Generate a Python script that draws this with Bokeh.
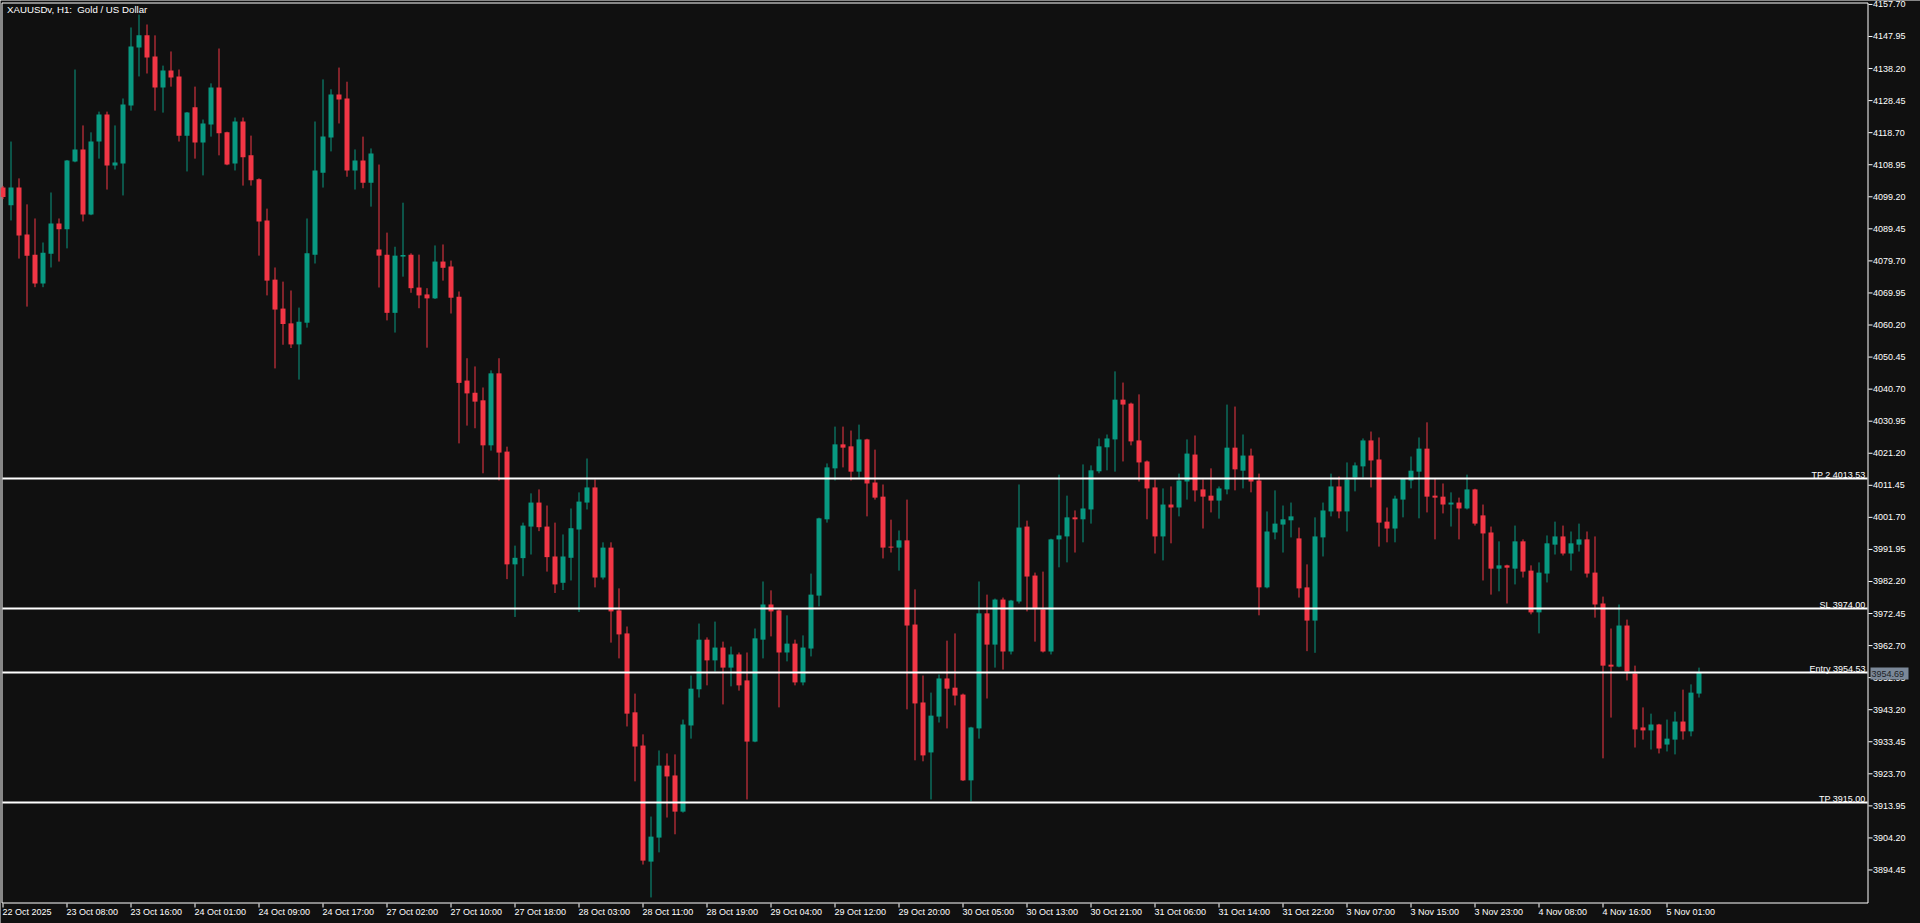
from bokeh.plotting import figure
from bokeh.models import Label, Range1d
from bokeh.core.properties import value
from bokeh.embed import file_html
from bokeh.resources import INLINE

# ---------------- data (XAUUSDv H1) ----------------
opens = [4102.0, 4096.6, 4102.0, 4087.7, 4081.6, 4072.8, 4081.9, 4091.1, 4089.3, 4109.9,
         4113.6, 4093.8, 4116.0, 4124.2, 4108.7, 4109.3, 4127.0, 4144.6, 4148.3, 4141.9,
         4132.4, 4137.6, 4135.8, 4117.8, 4126.4, 4115.7, 4121.2, 4132.4, 4118.8, 4109.3,
         4122.1, 4111.8, 4104.5, 4092.0, 4074.0, 4065.2, 4060.7, 4054.3, 4060.9, 4081.6,
         4106.5, 4117.2, 4130.3, 4129.1, 4107.2, 4110.2, 4103.5, 4083.2, 4081.6, 4063.9,
         4081.0, 4081.6, 4071.6, 4069.5, 4068.3, 4079.5, 4078.0, 4068.8, 4043.3, 4039.6,
         4037.3, 4023.6, 4045.5, 4021.7, 3987.4, 3989.3, 3998.9, 4006.2, 3998.9, 3989.8,
         3981.8, 3989.4, 3998.0, 4006.2, 4010.8, 3983.4, 3992.5, 3973.4, 3966.4, 3942.4,
         3932.3, 3897.0, 3904.3, 3926.2, 3923.2, 3912.2, 3938.4, 3949.4, 3964.5, 3958.2,
         3962.1, 3956.0, 3960.0, 3952.1, 3933.5, 3964.5, 3975.2, 3973.4, 3960.6, 3963.3,
         3951.5, 3961.8, 3977.9, 4001.1, 4016.6, 4023.9, 4023.3, 4015.6, 4025.4, 4012.3,
         4008.0, 3992.8, 3992.5, 3994.7, 3969.1, 3945.4, 3930.2, 3941.1, 3952.7, 3949.9,
         3947.8, 3921.7, 3937.5, 3972.5, 3963.0, 3976.7, 3960.9, 3976.1, 3998.9, 3984.0,
         3973.7, 3960.9, 3995.0, 3995.9, 4001.7, 4001.1, 4004.1, 4015.7, 4023.0, 4025.4,
         4037.5, 4036.3, 4025.1, 4018.7, 4010.8, 3995.9, 4005.6, 4004.7, 4012.6, 4020.8,
         4010.2, 4008.3, 4006.8, 4010.2, 4022.9, 4015.9, 4020.5, 4012.9, 3980.4, 3997.1,
         3999.5, 4000.8, 3995.3, 3980.4, 3970.3, 3995.6, 4003.5, 4011.1, 4003.5, 4013.8,
         4017.2, 4025.1, 4019.3, 4000.4, 3998.3, 4007.1, 4012.9, 4015.6, 4022.6, 4008.3,
         4008.0, 4005.6, 4006.2, 4004.4, 4010.2, 4002.3, 3997.1, 3986.1, 3987.1, 3986.1,
         3994.4, 3985.5, 3972.8, 3984.6, 3993.4, 3995.9, 3990.7, 3993.4, 3995.0, 3984.9,
         3975.5, 3956.9, 3956.3, 3968.8, 3954.2, 3937.8, 3936.9, 3938.7, 3932.6, 3934.1,
         3939.6, 3936.6, 3948.1]
highs = [4102.5, 4116.0, 4104.8, 4096.9, 4092.6, 4085.3, 4100.5, 4092.6, 4110.4, 4137.9,
         4120.9, 4118.8, 4125.1, 4125.1, 4120.9, 4129.1, 4150.7, 4154.6, 4151.6, 4148.3,
         4139.1, 4143.4, 4137.9, 4125.0, 4132.7, 4122.7, 4133.7, 4144.3, 4119.0, 4123.3,
         4123.3, 4117.8, 4104.8, 4095.6, 4077.7, 4073.4, 4070.7, 4065.5, 4092.6, 4122.1,
         4134.9, 4131.9, 4138.5, 4134.2, 4113.6, 4117.5, 4113.9, 4109.0, 4088.3, 4084.0,
         4097.4, 4082.0, 4081.6, 4071.4, 4084.4, 4084.7, 4079.8, 4070.4, 4050.1, 4047.6,
         4041.2, 4046.4, 4050.1, 4023.2, 3993.1, 4000.1, 4009.0, 4010.2, 4005.3, 4000.1,
         3996.5, 4004.4, 4009.3, 4019.6, 4013.2, 3994.1, 3994.1, 3980.1, 3968.5, 3948.1,
         3935.7, 3910.7, 3930.8, 3929.9, 3929.6, 3940.2, 3953.6, 3969.4, 3965.2, 3970.0,
         3963.9, 3962.4, 3960.6, 3960.6, 3967.9, 3982.2, 3979.5, 3973.7, 3971.9, 3964.5,
         3965.8, 3984.6, 4001.6, 4018.1, 4029.3, 4029.3, 4028.1, 4029.9, 4025.6, 4022.3,
         4011.7, 4001.0, 3997.7, 4007.1, 3979.8, 3953.6, 3948.4, 3953.9, 3964.2, 3966.4,
         3948.1, 3938.0, 3982.2, 3978.2, 3977.0, 3977.3, 3976.6, 4011.7, 4000.7, 3984.9,
         3985.2, 3995.2, 4014.7, 4008.3, 4003.8, 4017.8, 4017.5, 4025.7, 4026.9, 4046.1,
         4042.7, 4036.6, 4039.1, 4019.0, 4013.2, 4010.5, 4011.1, 4015.0, 4025.4, 4026.6,
         4013.2, 4016.6, 4011.1, 4036.0, 4035.4, 4026.9, 4022.6, 4015.0, 4003.5, 4009.9,
         4005.3, 4006.2, 3998.6, 3987.4, 4001.7, 4006.2, 4015.0, 4014.1, 4018.4, 4018.4,
         4025.7, 4027.8, 4026.0, 4004.7, 4008.3, 4013.7, 4020.2, 4026.0, 4030.6, 4013.5,
         4012.0, 4009.3, 4007.7, 4014.7, 4010.4, 4005.6, 3998.9, 3994.4, 3987.3, 3999.2,
         3995.0, 3987.1, 3988.0, 3996.2, 4000.4, 3999.2, 3997.4, 3999.8, 3997.4, 3995.9,
         3977.6, 3967.9, 3975.2, 3970.6, 3956.6, 3943.9, 3942.0, 3938.9, 3940.2, 3942.6,
         3949.3, 3950.9, 3956.0]
lows = [4098.5, 4092.0, 4080.4, 4065.8, 4071.7, 4071.7, 4077.7, 4079.5, 4083.5, 4109.7,
        4091.7, 4093.6, 4110.8, 4101.4, 4107.5, 4099.6, 4125.4, 4135.8, 4136.7, 4125.4,
        4124.8, 4132.7, 4116.0, 4106.9, 4110.8, 4105.7, 4117.5, 4111.8, 4108.8, 4107.2,
        4102.6, 4102.6, 4081.3, 4069.2, 4047.0, 4054.2, 4053.2, 4043.6, 4059.4, 4078.9,
        4102.0, 4113.0, 4121.5, 4105.3, 4101.4, 4101.8, 4096.2, 4071.6, 4061.6, 4057.9,
        4074.9, 4070.0, 4065.3, 4053.3, 4068.1, 4073.7, 4063.7, 4024.2, 4029.6, 4028.8,
        4015.1, 4022.0, 4012.9, 3982.9, 3971.4, 3983.8, 3990.4, 3997.5, 3985.2, 3978.7,
        3979.6, 3982.5, 3972.9, 4004.1, 3980.4, 3982.8, 3963.6, 3958.8, 3938.1, 3921.4,
        3896.1, 3886.1, 3899.8, 3910.4, 3905.3, 3911.9, 3934.4, 3946.9, 3950.6, 3954.8,
        3944.8, 3950.3, 3949.0, 3915.9, 3933.3, 3958.8, 3965.5, 3943.9, 3957.9, 3950.6,
        3950.6, 3959.4, 3974.6, 4000.1, 4012.9, 4016.9, 4012.9, 4013.8, 4002.0, 4007.1,
        3989.2, 3991.0, 3985.5, 3943.3, 3927.8, 3927.5, 3915.9, 3939.3, 3937.5, 3944.5,
        3921.5, 3915.3, 3934.4, 3946.6, 3956.0, 3955.4, 3960.0, 3975.5, 3973.1, 3963.9,
        3960.6, 3960.0, 3986.5, 3988.0, 3991.0, 3994.1, 3999.8, 4015.1, 4016.0, 4015.6,
        4018.7, 4023.6, 4012.6, 4001.1, 3990.7, 3988.6, 3993.8, 4002.0, 4007.1, 4006.5,
        3998.3, 4003.2, 4001.3, 4008.7, 4009.9, 4010.5, 4009.3, 3971.9, 3980.1, 3995.0,
        3991.0, 3995.6, 3977.3, 3961.0, 3960.5, 3989.8, 4002.0, 4001.4, 3997.4, 4009.6,
        4013.8, 4010.8, 3992.8, 3994.1, 3994.1, 4001.7, 4010.5, 4001.4, 4003.2, 3995.0,
        4002.9, 3998.9, 3995.0, 4004.1, 3999.2, 3982.5, 3978.2, 3979.2, 3975.5, 3981.3,
        3983.4, 3972.2, 3966.4, 3981.9, 3990.4, 3990.1, 3985.5, 3991.3, 3983.4, 3971.2,
        3928.4, 3940.8, 3956.1, 3952.1, 3931.7, 3934.1, 3931.1, 3929.9, 3930.5, 3929.6,
        3934.1, 3935.1, 3946.9]
closes = [4099.1, 4102.0, 4087.4, 4081.3, 4072.8, 4082.2, 4091.1, 4089.3, 4110.2, 4113.6,
          4093.8, 4116.0, 4124.2, 4108.7, 4109.6, 4127.3, 4144.9, 4148.3, 4141.6, 4132.4,
          4137.6, 4135.5, 4117.8, 4124.8, 4115.7, 4121.5, 4132.4, 4118.5, 4109.0, 4122.1,
          4111.2, 4104.2, 4091.7, 4073.7, 4064.9, 4060.5, 4054.3, 4061.2, 4082.0, 4107.2,
          4117.5, 4130.3, 4128.8, 4107.2, 4110.2, 4103.5, 4112.4, 4081.3, 4063.9, 4081.3,
          4081.5, 4071.4, 4069.2, 4068.3, 4079.5, 4077.6, 4068.5, 4042.6, 4039.4, 4036.9,
          4023.6, 4045.5, 4021.4, 3987.4, 3989.4, 3999.2, 4006.2, 3998.7, 3989.6, 3981.3,
          3989.8, 3998.4, 4006.5, 4010.8, 3983.4, 3992.5, 3973.1, 3966.1, 3942.0, 3932.0,
          3897.3, 3904.6, 3926.2, 3922.9, 3912.2, 3938.7, 3949.6, 3964.5, 3958.2, 3962.1,
          3956.0, 3960.0, 3950.6, 3933.5, 3964.9, 3975.2, 3973.1, 3960.6, 3963.3, 3951.5,
          3962.1, 3978.2, 4001.4, 4016.9, 4023.9, 4022.9, 4015.6, 4025.4, 4012.0, 4007.7,
          3992.5, 3992.5, 3994.7, 3968.8, 3945.1, 3929.3, 3941.4, 3952.7, 3949.6, 3947.5,
          3921.7, 3937.8, 3972.5, 3963.0, 3976.7, 3960.9, 3976.4, 3998.6, 3983.7, 3974.0,
          3960.9, 3995.0, 3996.2, 4001.7, 4001.1, 4004.4, 4016.0, 4023.3, 4025.7, 4037.5,
          4036.0, 4024.8, 4018.4, 4010.5, 3995.9, 4005.6, 4004.7, 4012.9, 4021.1, 4009.9,
          4008.0, 4006.8, 4010.5, 4022.9, 4016.3, 4020.5, 4012.6, 3980.4, 3997.4, 3999.8,
          4001.1, 4002.0, 3980.1, 3970.3, 3995.9, 4003.8, 4011.1, 4003.5, 4013.2, 4017.5,
          4025.1, 4019.0, 4000.1, 3998.3, 4007.4, 4013.5, 4015.9, 4022.6, 4008.0, 4007.7,
          4005.6, 4006.2, 4004.4, 4010.2, 3999.8, 3996.8, 3986.1, 3987.1, 3986.4, 3994.4,
          3985.2, 3972.8, 3984.9, 3993.8, 3995.9, 3990.7, 3993.8, 3995.0, 3984.6, 3975.2,
          3956.6, 3956.3, 3968.8, 3954.8, 3937.2, 3936.9, 3938.7, 3931.4, 3934.4, 3939.6,
          3936.6, 3948.4, 3954.69]

time_label_bars = [0, 8, 16, 24, 32, 40, 48, 56, 64, 72, 80, 88, 96, 104, 112, 120, 128,
                   136, 144, 152, 160, 168, 176, 184, 192, 200, 208]
time_labels = ["22 Oct 2025", "23 Oct 08:00", "23 Oct 16:00", "24 Oct 01:00", "24 Oct 09:00",
               "24 Oct 17:00", "27 Oct 02:00", "27 Oct 10:00", "27 Oct 18:00", "28 Oct 03:00",
               "28 Oct 11:00", "28 Oct 19:00", "29 Oct 04:00", "29 Oct 12:00", "29 Oct 20:00",
               "30 Oct 05:00", "30 Oct 13:00", "30 Oct 21:00", "31 Oct 06:00", "31 Oct 14:00",
               "31 Oct 22:00", "3 Nov 07:00", "3 Nov 15:00", "3 Nov 23:00", "4 Nov 08:00",
               "4 Nov 16:00", "5 Nov 01:00"]
price_ticks = [4157.70, 4147.95, 4138.20, 4128.45, 4118.70, 4108.95, 4099.20, 4089.45,
               4079.70, 4069.95, 4060.20, 4050.45, 4040.70, 4030.95, 4021.20, 4011.45,
               4001.70, 3991.95, 3982.20, 3972.45, 3962.70, 3952.95, 3943.20, 3933.45,
               3923.70, 3913.95, 3904.20, 3894.45]
level_prices = [4013.53, 3974.00, 3954.53, 3915.00]
level_names = ["TP 2 4013.53", "SL 3974.00", "Entry 3954.53", "TP 3915.00"]
last_price = 3954.69
title_text = "XAUUSDv, H1: \u00a0Gold / US Dollar"

# ---------------- style / layout ----------------
BG = "#101010"
UP = "#089981"
DOWN = "#f23645"
FONT = "Liberation Sans"
FS = "9px"
W, H = 1920, 923
PY = 0.304144          # price units per screen pixel
P_TOP = 4158.29        # price at pixel row 2 (top of the chart frame)


def bx(px):            # screen x (px) -> bar coordinate (8 px per bar)
    return (px - 2.5) / 8.0


def py(px):            # screen y (px) -> price coordinate
    return P_TOP - (px - 2.0) * PY


p = figure(width=W, height=H, output_backend="svg", toolbar_location=None,
           x_range=Range1d(bx(0), bx(W)), y_range=Range1d(py(H), py(0)),
           x_axis_location=None, y_axis_location=None,
           background_fill_color=BG, border_fill_color=BG,
           min_border_left=0, min_border_top=0, min_border_right=0, min_border_bottom=0,
           outline_line_color=None)
p.xgrid.grid_line_color = None
p.ygrid.grid_line_color = None

# chart frame
p.quad(left=[bx(1.5)], right=[bx(1867.5)], top=[py(2.5)], bottom=[py(902.5)],
       fill_color=None, line_color="white", line_width=1)

# candles
idx = list(range(len(opens)))
colors = [UP if c >= o else DOWN for o, c in zip(opens, closes)]
tops = [max(o, c) for o, c in zip(opens, closes)]
bots = [min(o, c) for o, c in zip(opens, closes)]
p.segment(x0=idx, y0=lows, x1=idx, y1=highs, line_color=colors, line_width=1)
p.vbar(x=idx, width=0.625, top=tops, bottom=bots, fill_color=colors, line_color=None)

# trade levels
n_lv = len(level_prices)
p.segment(x0=[bx(2)] * n_lv, x1=[bx(1867)] * n_lv, y0=level_prices, y1=level_prices,
          line_color="white", line_width=2)

# right price scale
n_pt = len(price_ticks)
p.segment(x0=[bx(1868)] * n_pt, x1=[bx(1872)] * n_pt, y0=price_ticks, y1=price_ticks,
          line_color="white", line_width=1)
p.text(x=[bx(1872.5)] * n_pt, y=price_ticks, text=["%.2f" % t for t in price_ticks],
       text_font=value(FONT), text_font_size=value(FS), text_color="white",
       text_align="left", text_baseline="middle")

# bottom time scale
n_tl = len(time_label_bars)
p.segment(x0=time_label_bars, x1=time_label_bars, y0=[py(903)] * n_tl, y1=[py(907)] * n_tl,
          line_color="white", line_width=1)
p.text(x=[b - 0.0625 for b in time_label_bars], y=[py(906.5)] * n_tl, text=time_labels,
       text_font=value(FONT), text_font_size=value(FS), text_color="white",
       text_align="left", text_baseline="top")

# current price box
p.quad(left=[bx(1870)], right=[bx(1908)], top=[last_price + 4.4 * PY],
       bottom=[last_price - 7.6 * PY], fill_color="#7b8898", line_color=None)
p.text(x=[bx(1871)], y=[last_price - 1.6 * PY], text=["%.2f" % last_price],
       text_font=value(FONT), text_font_size=value(FS), text_color="#1b1f26",
       text_align="left", text_baseline="middle")

# level labels and title
for lv, nm in zip(level_prices, level_names):
    p.add_layout(Label(x=bx(1865), y=lv, y_offset=3, text=nm, text_align="right",
                       text_baseline="alphabetic", text_color="white", text_font=FONT,
                       text_font_size=FS))

p.add_layout(Label(x=bx(6.5), y=py(3), text=title_text, text_align="left",
                   text_baseline="top", text_color="white", text_font=FONT,
                   text_font_size="9.7px"))

open("out.html", "w").write(file_html(p, INLINE))
